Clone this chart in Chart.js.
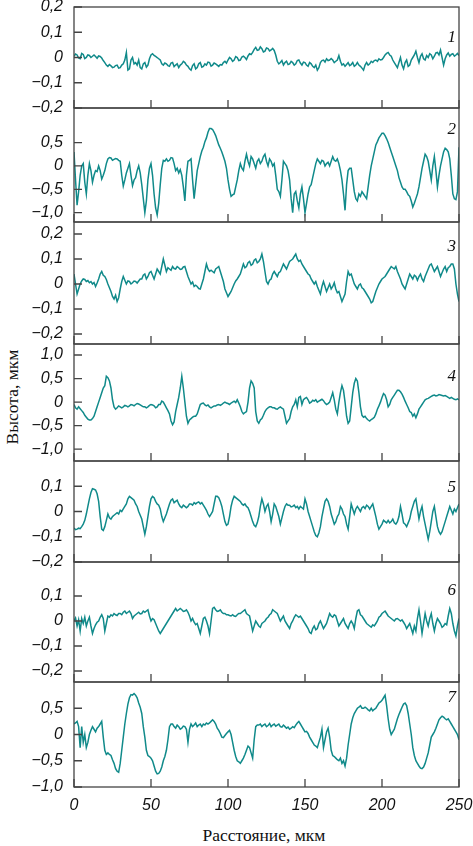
<!DOCTYPE html>
<html>
<head>
<meta charset="utf-8">
<script src="https://cdn.jsdelivr.net/npm/chart.js@4.4.1/dist/chart.umd.min.js"></script>
<style>
  body { margin: 0; background: #fff; width: 473px; height: 846px; position: relative; overflow: hidden; }
  canvas { position: absolute; left: 0; }
  .ttl { position: absolute; font-family: "Liberation Serif", "Times New Roman", serif; font-size: 17.5px; color: #111; white-space: nowrap; }
  #xTitle { left: 264px; top: 835px; transform: translate(-50%, -50%); }
  #yTitle { left: 12px; top: 397px; transform: translate(-50%, -50%) rotate(-90deg); }
</style>
</head>
<body>
<div class="ttl" id="xTitle">Расстояние, мкм</div>
<div class="ttl" id="yTitle">Высота, мкм</div>
<script>
// distance along the profile, мкм
const distance = [
  0, 1, 2, 3, 4, 5, 6, 7, 8, 9,
  10, 11, 12, 13, 14, 15, 16, 17, 18, 19,
  20, 21, 22, 23, 24, 25, 26, 27, 28, 29,
  30, 31, 32, 33, 34, 35, 36, 37, 38, 39,
  40, 41, 42, 43, 44, 45, 46, 47, 48, 49,
  50, 51, 52, 53, 54, 55, 56, 57, 58, 59,
  60, 61, 62, 63, 64, 65, 66, 67, 68, 69,
  70, 71, 72, 73, 74, 75, 76, 77, 78, 79,
  80, 81, 82, 83, 84, 85, 86, 87, 88, 89,
  90, 91, 92, 93, 94, 95, 96, 97, 98, 99,
  100, 101, 102, 103, 104, 105, 106, 107, 108, 109,
  110, 111, 112, 113, 114, 115, 116, 117, 118, 119,
  120, 121, 122, 123, 124, 125, 126, 127, 128, 129,
  130, 131, 132, 133, 134, 135, 136, 137, 138, 139,
  140, 141, 142, 143, 144, 145, 146, 147, 148, 149,
  150, 151, 152, 153, 154, 155, 156, 157, 158, 159,
  160, 161, 162, 163, 164, 165, 166, 167, 168, 169,
  170, 171, 172, 173, 174, 175, 176, 177, 178, 179,
  180, 181, 182, 183, 184, 185, 186, 187, 188, 189,
  190, 191, 192, 193, 194, 195, 196, 197, 198, 199,
  200, 201, 202, 203, 204, 205, 206, 207, 208, 209,
  210, 211, 212, 213, 214, 215, 216, 217, 218, 219,
  220, 221, 222, 223, 224, 225, 226, 227, 228, 229,
  230, 231, 232, 233, 234, 235, 236, 237, 238, 239,
  240, 241, 242, 243, 244, 245, 246, 247, 248, 249,
  250
];

// profile heights, мкм
const height1 = [
  0.005, 0.014, 0.01, -0.002, -0.005, 0.016, 0.012, -0.004, 0.0, 0.01,
  0.008, 0.0, 0.005, 0.01, 0.004, -0.003, 0.006, 0.004, -0.002, -0.012,
  -0.02, -0.03, -0.035, -0.028, -0.033, -0.04, -0.038, -0.032, -0.03, -0.042,
  -0.04, -0.03, -0.025, -0.01, 0.02, -0.05, -0.045, -0.01, 0.0, -0.025,
  -0.02, -0.03, -0.01, -0.04, -0.045, -0.025, -0.02, -0.038, -0.03, -0.005,
  0.01, 0.015, 0.008, 0.004, 0.0, -0.005, -0.01, -0.025, -0.03, -0.022,
  -0.025, -0.032, -0.035, -0.022, -0.02, -0.036, -0.03, -0.025, -0.04, -0.03,
  -0.025, -0.015, -0.02, -0.03, -0.035, -0.045, -0.05, -0.032, -0.025, -0.045,
  -0.04, -0.025, -0.02, -0.038, -0.035, -0.025, -0.03, -0.018, -0.02, -0.034,
  -0.03, -0.022, -0.025, -0.03, -0.035, -0.028, -0.03, -0.02, -0.015, -0.022,
  -0.01, 0.0, -0.005, -0.015, -0.01, 0.004, 0.0, -0.012, -0.01, 0.002,
  0.005, 0.0, -0.008, 0.006, 0.015, 0.012, 0.02, 0.032, 0.04, 0.028,
  0.03, 0.042, 0.035, 0.022, 0.025, 0.038, 0.035, 0.026, 0.03, 0.036,
  0.028, 0.01, -0.015, -0.025, -0.02, -0.012, -0.03, -0.02, -0.015, -0.028,
  -0.025, -0.015, -0.02, -0.03, -0.025, -0.012, -0.01, -0.022, -0.03, -0.018,
  -0.02, -0.03, -0.035, -0.02, -0.025, -0.035, -0.04, -0.03, -0.05, -0.04,
  -0.02, -0.012, -0.01, -0.018, -0.005, -0.012, -0.01, -0.004, -0.01, -0.02,
  -0.015, -0.01, 0.008, -0.015, -0.03, -0.025, -0.035, -0.028, -0.02, -0.032,
  -0.028, -0.02, -0.035, -0.03, -0.02, -0.03, -0.035, -0.042, -0.05, -0.03,
  -0.02, -0.03, -0.025, -0.015, -0.02, -0.012, -0.01, -0.015, -0.005, -0.01,
  -0.008, 0.0, 0.01, 0.016, 0.02, 0.01, 0.005, -0.01, -0.02, -0.03,
  -0.04, -0.02, 0.0, -0.03, -0.045, -0.02, -0.01, -0.035, -0.03, -0.01,
  0.0, 0.01, 0.025, 0.0, -0.02, 0.005, 0.015, -0.005, -0.01, 0.008,
  0.0, 0.015, 0.01, -0.005, 0.005, 0.018, 0.02, 0.01, 0.03, 0.0,
  -0.03, -0.005, 0.01, 0.018, 0.005, 0.012, 0.015, 0.005, 0.01, 0.016,
  0.008
];
const height2 = [
  0.3, -0.3, -0.84, -0.55, -0.2, 0.0, 0.05, -0.35, -0.6, -0.2,
  0.05, -0.1, -0.35, -0.2, -0.1, -0.12, 0.0, -0.1, -0.28, -0.2,
  -0.1, 0.05, 0.15, 0.18, 0.17, 0.12, 0.14, 0.16, 0.15, 0.12,
  0.1, -0.2, -0.43, -0.3, -0.15, -0.05, 0.05, -0.2, -0.42, -0.3,
  -0.25, -0.1, 0.0, -0.15, -0.4, -0.7, -1.0, -0.75, -0.3, -0.05,
  0.05, -0.2, -0.6, -0.9, -1.05, -0.8, -0.4, -0.05, 0.12, 0.1,
  0.15, 0.1, 0.12, 0.18, 0.17, 0.05, -0.1, -0.05, -0.15, -0.08,
  -0.2, -0.45, -0.75, -0.2, 0.1, 0.12, 0.15, -0.3, -0.7, -0.4,
  -0.1, 0.05, 0.2, 0.32, 0.4, 0.52, 0.6, 0.72, 0.8, 0.8,
  0.78, 0.72, 0.65, 0.55, 0.45, 0.38, 0.3, 0.2, 0.1, -0.05,
  -0.3, -0.5, -0.65, -0.62, -0.6, -0.45, -0.3, -0.1, 0.05, -0.05,
  -0.1, 0.1, 0.25, 0.1, 0.0, 0.2, 0.15, 0.05, -0.05, 0.1,
  0.15, 0.05, 0.1, 0.2, 0.25, 0.1, 0.0, 0.15, 0.1, 0.0,
  0.05, -0.2, -0.5, -0.55, -0.65, -0.3, 0.1, 0.05, 0.0, -0.1,
  -0.3, -0.7, -1.0, -0.6, -0.55, -0.75, -0.9, -0.6, -0.45, -0.7,
  -1.0, -0.8, -0.6, -0.45, -0.4, -0.25, -0.1, 0.05, 0.15, 0.1,
  0.05, 0.12, 0.1, 0.0, 0.05, 0.08, 0.0, 0.1, 0.2, 0.12,
  0.1, 0.15, 0.05, -0.1, -0.3, -0.6, -0.95, -0.4, -0.1, -0.05,
  -0.05, -0.3, -0.55, -0.7, -0.75, -0.6, -0.65, -0.55, -0.6, -0.65,
  -0.7, -0.45, -0.2, 0.0, 0.15, 0.3, 0.45, 0.52, 0.6, 0.65,
  0.7, 0.7, 0.65, 0.58, 0.5, 0.4, 0.3, 0.2, 0.1, 0.0,
  -0.1, -0.25, -0.35, -0.45, -0.5, -0.5, -0.55, -0.62, -0.65, -0.75,
  -0.88, -0.8, -0.7, -0.6, -0.45, -0.25, -0.05, 0.1, 0.25, 0.2,
  0.1, -0.1, -0.3, 0.0, 0.2, -0.1, -0.45, -0.2, 0.0, 0.15,
  0.3, 0.38, 0.35, 0.3, 0.15, -0.2, -0.6, -0.7, -0.72, -0.55,
  0.4
];
const height3 = [
  0.04, 0.0, -0.04, -0.02, 0.0, 0.012, 0.02, 0.018, 0.01, 0.014,
  0.005, 0.01, 0.0, 0.006, -0.01, 0.004, 0.02, 0.04, 0.05, 0.035,
  0.03, 0.018, 0.0, -0.015, -0.03, -0.05, -0.06, -0.045, -0.07, -0.055,
  -0.02, 0.01, 0.03, 0.015, 0.0, 0.012, 0.01, 0.0, 0.005, 0.012,
  0.01, 0.004, 0.012, 0.02, 0.02, 0.035, 0.04, 0.02, 0.03, 0.045,
  0.05, 0.035, 0.02, 0.04, 0.06, 0.05, 0.04, 0.07, 0.1, 0.075,
  0.05, 0.065, 0.06, 0.055, 0.07, 0.062, 0.06, 0.07, 0.065, 0.058,
  0.06, 0.068, 0.07, 0.05, 0.03, 0.015, 0.0, 0.008, -0.01, -0.005,
  -0.01, -0.018, -0.02, 0.0, 0.02, 0.05, 0.08, 0.06, 0.05, 0.055,
  0.05, 0.045, 0.06, 0.065, 0.07, 0.05, 0.03, 0.01, -0.02, -0.035,
  -0.05, -0.04, -0.03, -0.015, 0.0, 0.012, 0.02, 0.03, 0.04, 0.06,
  0.08, 0.065, 0.07, 0.085, 0.09, 0.075, 0.08, 0.095, 0.1, 0.085,
  0.09, 0.1, 0.12, 0.09, 0.05, 0.01, 0.0, 0.015, 0.02, 0.04,
  0.05, 0.04, 0.03, 0.045, 0.05, 0.065, 0.08, 0.07, 0.06, 0.075,
  0.09, 0.095, 0.1, 0.11, 0.12, 0.1, 0.09, 0.095, 0.08, 0.07,
  0.06, 0.05, 0.04, 0.035, 0.02, 0.01, 0.0, 0.01, -0.01, -0.025,
  -0.04, -0.01, 0.01, -0.01, -0.03, -0.015, 0.0, -0.02, -0.01, 0.005,
  -0.02, -0.035, -0.03, -0.05, -0.07, -0.055, -0.04, 0.01, 0.05, 0.035,
  0.04, 0.02, 0.0, -0.01, -0.02, -0.005, 0.0, -0.015, -0.02, -0.03,
  -0.04, -0.05, -0.06, -0.075, -0.07, -0.05, -0.03, -0.015, 0.0, 0.01,
  0.02, 0.025, 0.03, 0.04, 0.05, 0.06, 0.07, 0.065, 0.06, 0.07,
  0.05, 0.035, 0.02, 0.0, -0.01, -0.02, 0.0, 0.02, 0.04, 0.03,
  0.02, 0.035, 0.03, 0.015, 0.03, 0.04, 0.02, 0.01, 0.03, 0.045,
  0.06, 0.075, 0.08, 0.065, 0.05, 0.06, 0.07, 0.05, 0.03, 0.045,
  0.06, 0.07, 0.05, 0.065, 0.07, 0.08, 0.08, 0.06, 0.0, -0.04,
  -0.07
];
const height4 = [
  -0.05, -0.12, -0.15, -0.1, -0.14, -0.18, -0.22, -0.28, -0.32, -0.36,
  -0.38, -0.38, -0.35, -0.3, -0.2, -0.1, 0.0, 0.1, 0.2, 0.3,
  0.35, 0.55, 0.52, 0.45, 0.3, 0.05, -0.1, -0.15, -0.12, -0.08,
  -0.1, -0.12, -0.1, -0.07, -0.08, -0.1, -0.08, -0.05, -0.06, -0.08,
  -0.05, -0.03, -0.04, -0.06, -0.08, -0.1, -0.1, -0.12, -0.1, -0.07,
  -0.05, -0.06, -0.08, -0.12, -0.1, -0.05, -0.05, 0.02, 0.0, -0.06,
  -0.12, -0.18, -0.25, -0.4, -0.48, -0.42, -0.2, -0.05, 0.1, 0.3,
  0.55, 0.3, 0.0, -0.3, -0.45, -0.38, -0.35, -0.32, -0.3, -0.3,
  -0.25, -0.15, -0.05, -0.03, -0.02, -0.06, -0.08, -0.06, -0.1, -0.12,
  -0.1, -0.08, -0.08, -0.06, -0.05, -0.07, -0.05, -0.02, 0.0, -0.02,
  -0.03, -0.05, -0.02, 0.0, 0.02, -0.01, 0.05, -0.02, -0.1, -0.2,
  -0.25, -0.22, -0.2, 0.0, 0.3, 0.45, 0.4, 0.3, -0.2, -0.4,
  -0.45, -0.38, -0.35, -0.28, -0.2, -0.15, -0.12, -0.1, -0.1, -0.12,
  -0.12, -0.14, -0.15, -0.12, -0.1, -0.13, -0.15, -0.3, -0.45, -0.4,
  -0.35, -0.2, -0.1, -0.05, 0.05, -0.1, 0.1, 0.12, -0.05, 0.05,
  0.08, 0.1, 0.05, -0.02, 0.0, 0.04, 0.02, 0.05, 0.0, 0.02,
  0.04, 0.06, 0.03, -0.02, -0.05, -0.03, 0.0, 0.1, 0.2, 0.05,
  -0.15, -0.25, 0.0, 0.2, 0.35, 0.25, 0.0, -0.3, -0.45, -0.4,
  -0.1, 0.2, 0.4, 0.5, 0.45, 0.2, -0.1, -0.28, -0.32, -0.3,
  -0.35, -0.38, -0.4, -0.37, -0.35, -0.32, -0.25, -0.15, -0.08, 0.0,
  0.1, 0.18, 0.15, 0.05, -0.1, -0.05, 0.05, 0.1, 0.15, 0.2,
  0.25, 0.25, 0.22, 0.17, 0.1, 0.02, -0.05, -0.12, -0.2, -0.22,
  -0.3, -0.25, -0.33, -0.25, -0.15, -0.1, -0.05, 0.0, 0.05, 0.07,
  0.08, 0.1, 0.12, 0.14, 0.15, 0.13, 0.14, 0.16, 0.15, 0.14,
  0.13, 0.14, 0.12, 0.1, 0.08, 0.1, 0.08, 0.06, 0.05, 0.07,
  0.05
];
const height5 = [
  -0.065, -0.072, -0.07, -0.066, -0.068, -0.06, -0.05, -0.035, -0.01, 0.02,
  0.05, 0.075, 0.09, 0.088, 0.085, 0.07, 0.04, -0.02, -0.07, -0.075,
  -0.06, -0.035, -0.01, -0.025, -0.03, -0.02, -0.015, -0.01, -0.005, -0.01,
  0.005, 0.0, 0.01, 0.02, 0.03, 0.05, 0.06, 0.055, 0.05, 0.045,
  0.03, 0.02, 0.0, -0.015, -0.03, -0.06, -0.09, -0.06, -0.02, 0.02,
  0.05, 0.06, 0.055, 0.04, 0.03, 0.025, 0.01, -0.02, -0.04, -0.025,
  -0.01, 0.01, 0.03, 0.045, 0.05, 0.035, 0.04, 0.045, 0.03, 0.02,
  0.015, 0.025, 0.02, 0.015, 0.02, 0.03, 0.03, 0.025, 0.035, 0.03,
  0.035, 0.038, 0.03, 0.035, 0.025, 0.015, 0.005, -0.01, -0.02, -0.01,
  0.0, 0.03, 0.06, 0.06, 0.055, 0.04, 0.02, -0.01, -0.04, -0.055,
  -0.05, -0.02, 0.02, 0.045, 0.06, 0.055, 0.05, 0.045, 0.04, 0.03,
  0.025, 0.03, 0.02, 0.015, 0.0, -0.02, -0.04, -0.055, -0.06, -0.045,
  -0.02, 0.02, 0.05, 0.03, 0.0, 0.02, 0.03, 0.0, -0.04, -0.01,
  0.03, 0.02, 0.0, -0.02, -0.05, -0.025, 0.0, 0.02, 0.03, 0.025,
  0.025, 0.018, 0.02, 0.025, 0.015, 0.02, 0.01, 0.02, 0.015, 0.01,
  0.05, 0.03, 0.0, -0.02, -0.04, -0.06, -0.08, -0.095, -0.1, -0.085,
  -0.06, -0.02, 0.01, 0.04, 0.05, 0.04, 0.02, -0.01, -0.03, -0.05,
  -0.04, -0.02, -0.01, 0.02, 0.01, -0.01, -0.02, -0.05, -0.07, -0.02,
  0.03, 0.01, -0.01, 0.01, 0.02, 0.01, 0.0, 0.015, 0.02, 0.012,
  0.025, 0.02, 0.01, 0.02, 0.03, 0.005, -0.02, -0.05, -0.07, -0.06,
  -0.05, -0.035, -0.04, -0.045, -0.035, -0.045, -0.04, -0.03, -0.045, -0.05,
  -0.04, -0.02, 0.02, -0.01, -0.045, -0.05, -0.06, -0.045, -0.03, 0.0,
  0.02, 0.04, 0.05, 0.01, -0.03, 0.0, 0.02, -0.02, -0.05, -0.08,
  -0.11, -0.08, -0.04, 0.0, 0.02, -0.02, -0.06, -0.08, -0.09, -0.08,
  -0.06, -0.04, -0.02, 0.0, 0.02, 0.005, -0.01, 0.01, 0.0, 0.015,
  0.03
];
const height6 = [
  0.0, 0.012, -0.02, 0.005, -0.04, 0.01, -0.01, 0.015, -0.02, 0.0,
  0.015, -0.02, -0.05, -0.03, -0.015, -0.005, 0.0, 0.015, 0.025, 0.01,
  -0.04, -0.01, 0.02, 0.015, 0.025, 0.02, 0.03, 0.025, 0.022, 0.03,
  0.03, 0.025, 0.035, 0.04, 0.03, 0.035, 0.04, 0.03, 0.01, 0.02,
  0.025, 0.03, 0.035, 0.028, 0.03, 0.04, 0.035, 0.04, 0.045, 0.02,
  0.0, 0.01, 0.005, -0.01, -0.025, -0.04, -0.05, -0.04, -0.03, -0.02,
  -0.01, 0.0, 0.01, 0.02, 0.03, 0.04, 0.05, 0.04, 0.045, 0.05,
  0.045, 0.038, 0.04, 0.045, 0.035, 0.02, 0.0, 0.01, -0.005, -0.015,
  -0.01, -0.03, -0.05, -0.02, 0.01, 0.015, 0.0, -0.02, -0.05, 0.0,
  0.05, 0.055, 0.045, 0.038, 0.04, 0.045, 0.035, 0.03, 0.03, 0.025,
  0.025, 0.022, 0.02, 0.025, 0.02, 0.018, 0.025, 0.03, 0.03, 0.035,
  0.04, 0.045, 0.03, 0.025, 0.02, -0.01, -0.04, -0.02, 0.0, -0.01,
  -0.02, -0.025, -0.01, -0.005, 0.0, 0.01, 0.015, 0.025, 0.03, 0.045,
  0.04, 0.035, 0.03, 0.015, 0.0, 0.01, 0.02, 0.0, -0.01, -0.02,
  -0.03, -0.01, 0.0, 0.015, 0.025, 0.02, 0.015, 0.02, 0.01, 0.0,
  -0.01, -0.02, -0.03, -0.045, -0.05, -0.03, -0.02, -0.035, -0.03, -0.01,
  0.0, -0.015, -0.03, -0.02, -0.01, 0.01, 0.03, 0.02, 0.015, 0.025,
  0.02, 0.0, -0.02, -0.01, 0.0, 0.01, -0.01, -0.02, -0.03, -0.01,
  0.0, -0.01, -0.03, 0.01, 0.04, 0.045, 0.025, 0.02, 0.01, 0.0,
  -0.01, -0.015, -0.02, -0.025, -0.015, -0.02, -0.01, 0.0, 0.015, 0.02,
  0.03, 0.035, 0.04, 0.03, 0.02, 0.015, 0.01, 0.005, 0.0, 0.008,
  0.01, 0.005, 0.0, 0.005, -0.005, -0.015, -0.03, -0.02, -0.01, -0.03,
  -0.05, -0.02, -0.04, 0.01, 0.045, 0.0, -0.05, -0.01, 0.03, 0.0,
  -0.02, 0.01, 0.03, -0.01, -0.04, -0.01, 0.01, 0.0, -0.01, -0.025,
  -0.02, -0.01, -0.015, 0.02, 0.05, 0.03, -0.01, -0.04, -0.06, -0.02,
  0.01
];
const height7 = [
  0.2, 0.22, 0.25, 0.15, -0.25, 0.15, -0.15, 0.0, -0.25, -0.15,
  0.0, 0.08, 0.15, 0.1, 0.05, 0.12, 0.15, 0.2, 0.25, -0.05,
  -0.3, -0.38, -0.35, -0.38, -0.4, -0.48, -0.55, -0.65, -0.7, -0.72,
  -0.55, -0.3, -0.05, 0.2, 0.4, 0.58, 0.7, 0.76, 0.75, 0.78,
  0.75, 0.7, 0.6, 0.52, 0.4, 0.15, -0.05, -0.3, -0.4, -0.42,
  -0.45, -0.5, -0.6, -0.7, -0.75, -0.74, -0.7, -0.62, -0.5, -0.42,
  -0.3, -0.1, 0.15, 0.2, 0.2, 0.15, 0.12, 0.18, 0.15, 0.1,
  0.12, 0.16, 0.15, 0.1, -0.15, 0.1, 0.2, 0.15, 0.18, 0.22,
  0.15, 0.18, 0.2, 0.15, 0.2, 0.18, 0.22, 0.2, 0.22, 0.25,
  0.28, 0.25, 0.2, 0.12, 0.08, 0.02, -0.05, -0.06, -0.02, 0.02,
  0.05, 0.08, 0.0, -0.15, -0.3, -0.42, -0.5, -0.52, -0.55, -0.5,
  -0.45, -0.38, -0.3, -0.22, -0.25, -0.35, -0.45, -0.1, 0.15, 0.18,
  0.18, 0.2, 0.15, 0.18, 0.2, 0.15, 0.17, 0.21, 0.15, 0.18,
  0.2, 0.16, 0.18, 0.2, 0.15, 0.14, 0.18, 0.15, 0.12, 0.14,
  0.1, 0.12, 0.15, 0.13, 0.18, 0.22, 0.25, 0.2, 0.15, 0.1,
  0.05, 0.06, 0.02, -0.05, -0.1, -0.15, -0.2, -0.22, -0.25, -0.15,
  -0.05, 0.1, -0.25, -0.1, 0.05, 0.12, -0.05, -0.3, -0.4, -0.42,
  -0.45, -0.48, -0.5, -0.45, -0.55, -0.5, -0.6, -0.45, -0.2, 0.0,
  0.2, 0.32, 0.4, 0.45, 0.5, 0.52, 0.55, 0.5, 0.5, 0.52,
  0.5, 0.47, 0.45, 0.5, 0.45, 0.48, 0.5, 0.55, 0.6, 0.62,
  0.65, 0.7, 0.75, 0.55, 0.3, 0.1, 0.0, 0.05, 0.1, 0.2,
  0.3, 0.38, 0.45, 0.52, 0.58, 0.6, 0.55, 0.4, 0.2, 0.0,
  -0.25, -0.4, -0.5, -0.55, -0.6, -0.64, -0.65, -0.62, -0.55, -0.45,
  -0.35, -0.2, -0.05, 0.0, 0.05, 0.12, 0.2, 0.28, 0.32, 0.35,
  0.33, 0.3, 0.28, 0.3, 0.25, 0.2, 0.15, 0.1, 0.05, 0.0,
  -0.1
];

const curveNames = ["1", "2", "3", "4", "5", "6", "7"];
const xTicks = [0, 50, 100, 150, 200, 250];
const yTicks = [
  [-0.2, -0.1, 0, 0.1, 0.2],
  [-1, -0.5, 0, 0.5],
  [-0.2, -0.1, 0, 0.1, 0.2],
  [-1, -0.5, 0, 0.5, 1],
  [-0.2, -0.1, 0, 0.1],
  [-0.2, -0.1, 0, 0.1],
  [-1, -0.5, 0, 0.5]
];
const yMin = [-0.2, -1.2, -0.24, -1.25, -0.2, -0.244, -1.0];
const yMax = [0.2, 1.24, 0.248, 1.234, 0.2, 0.236, 1.0];

const heights = [height1, height2, height3, height4, height5, height6, height7];

// layout of the panels on the page (px)
const panelTop = [7, 108, 222, 344, 461, 562, 682];
const panelBottom = [108, 222, 344, 461, 562, 682, 787];
const nameOffset = [31, 22, 25, 33, 27, 29, 16];
const plotLeft = 74;
const plotRight = 459;
const lineColor = "#108a8a";
const tickFont = { family: "'Liberation Sans', Arial, sans-serif", size: 16, style: "italic" };

function fmt(v) {
  if (v === 0) return "0";
  return (v < 0 ? "\u2212" : "") + Math.abs(v).toFixed(1).replace(".", ",");
}

const framePlugin = {
  id: "frame",
  afterDatasetsDraw(chart, args, opts) {
    const { ctx, chartArea: a, scales } = chart;
    ctx.save();
    ctx.strokeStyle = "#444";
    ctx.lineWidth = 1.3;
    ctx.strokeRect(a.left, a.top, a.right - a.left, a.bottom - a.top);
    ctx.beginPath();
    scales.y.ticks.forEach(function (t) {
      const y = scales.y.getPixelForValue(t.value);
      ctx.moveTo(a.left, y);
      ctx.lineTo(a.left + 8, y);
    });
    xTicks.forEach(function (v) {
      const x = scales.x.getPixelForValue(v);
      ctx.moveTo(x, a.bottom);
      ctx.lineTo(x, a.bottom - 8);
    });
    ctx.stroke();
    ctx.font = "italic 17px 'Liberation Serif', 'Times New Roman', serif";
    ctx.fillStyle = "#111";
    ctx.textAlign = "right";
    ctx.textBaseline = "middle";
    ctx.fillText(opts.name, a.right - 3, a.top + opts.offset);
    ctx.restore();
  },
};

heights.forEach(function (h, i) {
  const last = i === heights.length - 1;
  const padTop = Math.min(12, panelTop[i]);
  const canvasTop = panelTop[i] - padTop;
  const canvasBottom = last ? 846 : panelBottom[i] + 12;
  const xHeight = last ? 30 : 0;
  const padBottom = canvasBottom - panelBottom[i] - xHeight;

  const canvas = document.createElement("canvas");
  canvas.width = 473;
  canvas.height = canvasBottom - canvasTop;
  canvas.style.top = canvasTop + "px";
  document.body.appendChild(canvas);

  const points = distance.map(function (d, k) {
    return { x: d, y: h[k] };
  });

  new Chart(canvas, {
    type: "line",
    data: {
      datasets: [
        {
          data: points,
          borderColor: lineColor,
          borderWidth: 1.5,
          pointRadius: 0,
          tension: 0,
          fill: false,
        },
      ],
    },
    options: {
      responsive: false,
      animation: false,
      events: [],
      layout: { padding: { top: padTop, bottom: padBottom, left: 0, right: 473 - plotRight } },
      plugins: {
        legend: { display: false },
        tooltip: { enabled: false },
        frame: { name: curveNames[i], offset: nameOffset[i] },
      },
      scales: {
        x: {
          type: "linear",
          min: 0,
          max: 250,
          afterBuildTicks: function (scale) {
            scale.ticks = xTicks.map(function (v) { return { value: v }; });
          },
          afterFit: function (scale) {
            scale.height = xHeight;
            scale.paddingLeft = 0;
            scale.paddingRight = 0;
          },
          grid: { display: false, drawTicks: false },
          border: { display: false },
          ticks: {
            display: last,
            autoSkip: false,
            maxRotation: 0,
            padding: 9,
            color: "#111",
            font: tickFont,
            callback: function (v) { return String(v); },
          },
        },
        y: {
          type: "linear",
          min: yMin[i],
          max: yMax[i],
          afterBuildTicks: function (scale) {
            scale.ticks = yTicks[i].map(function (v) { return { value: v }; });
          },
          afterFit: function (scale) {
            scale.width = plotLeft;
            scale.paddingTop = 0;
            scale.paddingBottom = 0;
          },
          grid: { display: false, drawTicks: false },
          border: { display: false },
          ticks: {
            autoSkip: false,
            padding: 11,
            color: "#111",
            font: tickFont,
            callback: function (v) { return fmt(v); },
          },
        },
      },
    },
    plugins: [framePlugin],
  });
});
</script>
</body>
</html>
